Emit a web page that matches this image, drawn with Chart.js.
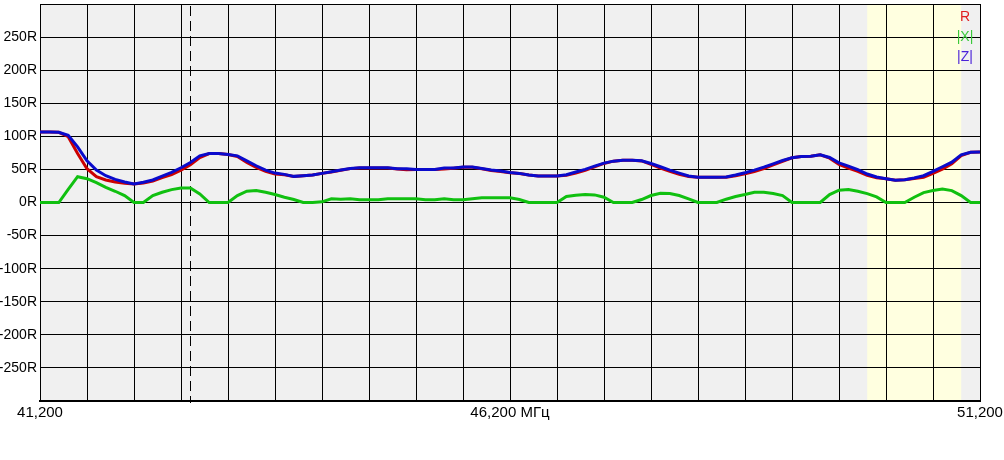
<!DOCTYPE html>
<html><head><meta charset="utf-8">
<script src="https://cdn.jsdelivr.net/npm/chart.js@4/dist/chart.umd.min.js"></script>
<style>html,body{margin:0;padding:0;background:#fff;overflow:hidden}</style>
</head><body>
<canvas id="c" width="1004" height="460" style="width:1004px;height:460px;display:block"></canvas>
<script>
// Frequencies (as shown in the axis labels)
const freqs = [41200,41300,41400,41500,41600,41700,41800,41900,42000,42100,
42200,42300,42400,42500,42600,42700,42800,42900,43000,43100,
43200,43300,43400,43500,43600,43700,43800,43900,44000,44100,
44200,44300,44400,44500,44600,44700,44800,44900,45000,45100,
45200,45300,45400,45500,45600,45700,45800,45900,46000,46100,
46200,46300,46400,46500,46600,46700,46800,46900,47000,47100,
47200,47300,47400,47500,47600,47700,47800,47900,48000,48100,
48200,48300,48400,48500,48600,48700,48800,48900,49000,49100,
49200,49300,49400,49500,49600,49700,49800,49900,50000,50100,
50200,50300,50400,50500,50600,50700,50800,50900,51000,51100,51200];

const seriesZ = [106.5,106.5,106,101.5,84,63,49,40.5,35,31,
28,30.5,34,40,45.5,52.5,60.5,70.5,74,74,
72.5,70.5,63,55.5,49,44.5,42.5,39.5,40.5,41.5,
44,46.5,49,51.5,52.5,52.5,52.5,52.5,51,51,
50,50,50,52,52,53.5,53.5,51.5,49,47.5,
45.5,44,41.5,40,40,40,42,46,50,55,
59.5,62.5,64,64,63,59,54,49,44.5,40,
38,38,38,38.5,41.5,45,49,53.5,58.5,63.5,
67.5,69.5,70,72,68,60,55,49.5,43,38.5,
36,33.5,34.5,37,40.5,47,54,61,72,76,76.5];

const seriesR = [106.5,106.5,106,99.5,74,51,39,34,31,29,
28,29.5,32.5,37.5,42,49,57,68,74,74,
72.5,69.5,60.5,53,47,43,42,39.3,40.5,41.5,
44,46.2,48.8,51.2,52.3,52.3,52.3,52.2,50.7,49.5,
49.7,49.8,49.8,50.5,51.8,53.3,53.2,51,48.5,47,
45,43.8,41.5,40,40,40,41,44.7,48.5,53.8,
59,62.5,64,64,62.8,57.5,52,47,42.5,39.3,
38,38,38,38.2,40.5,43.5,46.7,51.3,57,62.3,
67.5,69.5,70,72,67,57.5,52,47,41,37.5,
36,33.5,34.5,36.1,38,44,50.5,58.5,71,76,76.5];

const seriesX = [0,0,0,20,39,36,30,23,17,10.5,
0,0,10.5,15.5,19.5,22,22,13,0,0,
0,10.5,17,18,15.5,12,8,4.5,0,0,
1,5.5,5,5.5,4,4,4,5.5,5.5,5.5,
5.5,4,4,5.5,4,4,5.5,7,7,7,
7,4.5,0,0,0,0,9,11,12,11.5,
8,0,0,0,4.5,10.5,14,13.5,10.5,5.5,
0,0,0,5,9,12,15.5,15.5,13.5,10.5,
0,0,0,0,12,18.5,19.5,17,13.5,8.5,
0,0,0,8,15,18,20.5,18,10.5,0,0];

const xLabelValues = [41200, 46200, 51200];
const xLabelTexts = ['41,200', '46,200 МГц', '51,200'];
const yTickUnit = 'R';
const bandRange = [50000, 51000];
const markerFreq = 42800;
const legendNames = ['R', '|X|', '|Z|'];
const legendColors = ['#e02020', '#3cc83c', '#4a22d8'];

function pts(arr){ return freqs.map((f,i)=>({x:f, y:arr[i]})); }

const bgPlugin = {
  id:'bg',
  beforeDraw(chart){
    const {ctx, chartArea:a, scales:{x}} = chart;
    ctx.save();
    ctx.fillStyle = '#f0f0f0';
    ctx.fillRect(a.left, a.top, a.right-a.left, a.bottom-a.top);
    const b0 = x.getPixelForValue(bandRange[0]), b1 = x.getPixelForValue(bandRange[1]);
    ctx.fillStyle = '#ffffe0';
    ctx.fillRect(b0, a.top, b1-b0, a.bottom-a.top);
    ctx.restore();
  },
  beforeDatasetsDraw(chart){
    const {ctx, chartArea:a, scales:{x}} = chart;
    const px = Math.round(x.getPixelForValue(markerFreq)) + 0.5;
    ctx.save();
    ctx.strokeStyle = '#000';
    ctx.lineWidth = 1;
    ctx.setLineDash([10,5]);
    ctx.beginPath();
    ctx.moveTo(px, a.top+2);
    ctx.lineTo(px, a.bottom+2);
    ctx.stroke();
    ctx.restore();
  },
  afterDraw(chart){
    const {ctx, chartArea:a} = chart;
    ctx.save();
    ctx.font = '14px "Liberation Sans", Arial, sans-serif';
    ctx.textAlign = 'center';
    ctx.textBaseline = 'middle';
    const ys = [17, 37, 57];
    legendNames.forEach((n,i)=>{
      ctx.fillStyle = legendColors[i];
      ctx.fillText(n, a.right - 15, ys[i]);
    });
    ctx.restore();
  }
};

new Chart(document.getElementById('c'), {
  type:'line',
  data:{
    datasets:[
      {label:'|Z|', data:pts(seriesZ), borderColor:'#0a0acc', borderWidth:3, pointRadius:0, tension:0},
      {label:'R', data:pts(seriesR), borderColor:'#cc0000', borderWidth:3, pointRadius:0, tension:0},
      {label:'|X|', data:pts(seriesX), borderColor:'#10c010', borderWidth:3, pointRadius:0, tension:0}
    ]
  },
  options:{
    responsive:false,
    animation:false,
    devicePixelRatio:1,
    layout:{padding:{top:4, right:24, left:0, bottom:0}},
    plugins:{legend:{display:false}, tooltip:{enabled:false}},
    scales:{
      x:{
        type:'linear', min:41200, max:51200,
        afterBuildTicks(s){
          const t=[]; for(let v=41200; v<=51200; v+=500) t.push({value:v});
          s.ticks=t;
        },
        afterFit(s){ s.height = 59; s.paddingLeft = 0; s.paddingRight = 0; },
        grid:{color:'#000', lineWidth:1, drawTicks:false},
        border:{color:'#000', width:2},
        ticks:{
          autoSkip:false, maxRotation:0, padding:3, color:'#000',
          font:{family:'"Liberation Sans", Arial, sans-serif', size:15},
          callback(v){ const k = xLabelValues.indexOf(v); return k>=0 ? xLabelTexts[k] : ''; }
        }
      },
      y:{
        min:-300, max:300,
        afterFit(s){ s.width = 40; s.paddingTop = 0; s.paddingBottom = 0; },
        grid:{color:'#000', lineWidth:1, drawTicks:false},
        border:{color:'#000', width:1},
        ticks:{
          stepSize:50, padding:3, color:'#000',
          font:{family:'"Liberation Sans", Arial, sans-serif', size:14},
          callback(v){ return (v===300||v===-300) ? '' : v + yTickUnit; }
        }
      }
    }
  },
  plugins:[bgPlugin]
});
</script>
</body></html>
